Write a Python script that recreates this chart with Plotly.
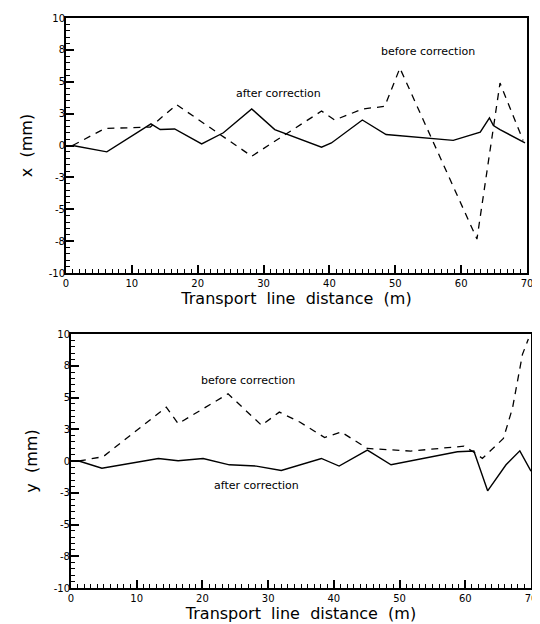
import plotly.graph_objects as go

# ---------------- data ----------------
# Top panel: horizontal orbit x (mm)
x_after_dist = [1.0, 6.2, 12.9, 14.3, 16.5, 20.6, 23.9, 28.2, 31.7, 38.8, 40.3, 45.0, 48.6, 58.8, 62.9, 64.3, 64.9, 65.9, 69.7]
x_after_val = [0.0, -0.5, 1.7, 1.25, 1.3, 0.13, 1.0, 2.87, 1.25, -0.13, 0.2, 2.0, 0.86, 0.4, 1.04, 2.16, 1.56, 1.25, 0.2]

x_before_dist = [1.0, 5.9, 12.8, 16.8, 28.2, 38.8, 40.8, 45.1, 48.4, 50.7, 62.4, 65.9, 69.4]
x_before_val = [0.0, 1.33, 1.45, 3.2, -0.84, 2.7, 2.0, 2.87, 3.07, 6.07, -7.34, 4.9, 0.4]

# Bottom panel: vertical orbit y (mm)
y_after_dist = [1.2, 4.7, 13.3, 16.3, 20.1, 24.1, 28.2, 32.0, 38.1, 40.8, 45.1, 48.7, 58.8, 61.3, 63.4, 66.2, 68.3, 70.0]
y_after_val = [0.0, -0.57, 0.2, 0.02, 0.2, -0.3, -0.4, -0.75, 0.2, -0.4, 0.86, -0.3, 0.73, 0.78, -2.35, -0.3, 0.8, -0.8]

y_before_dist = [1.2, 4.9, 14.5, 16.3, 23.9, 29.0, 31.7, 34.8, 38.6, 41.1, 45.1, 51.7, 59.8, 61.6, 62.6, 65.8, 67.2, 68.7, 69.6]
y_before_val = [0.0, 0.34, 4.24, 2.94, 5.29, 2.81, 3.85, 3.07, 1.85, 2.29, 0.99, 0.78, 1.17, 0.6, 0.2, 1.77, 4.2, 8.4, 9.6]

# tick labels
y_tickvals = [-10, -7.5, -5, -2.5, 0, 2.5, 5, 7.5, 10]
y_ticktext = ["-10", "-8", "-5", "-3", "0", "3", "5", "8", "10"]

labels_top = [("after correction", 32.3, 4.1), ("before correction", 54.9, 7.4)]
labels_bottom = [("before correction", 27.0, 6.3), ("after correction", 28.2, -1.95)]

# ---------------- figure ----------------
# the page body has an 8px margin; positions below are page pixels
OFF = 8
W, H = 540 - OFF, 624 - OFF
ML, MR, MT, MB = 50, 5, 6, 16
PW, PH = W - ML - MR, H - MT - MB
FONT = "DejaVu Sans"


def fx(a, b):
    return [(a - OFF - ML) / PW, (b - OFF - ML) / PW]


def fy(top, bottom):
    return [1 - (bottom - OFF - MT) / PH, 1 - (top - OFF - MT) / PH]


fig = go.Figure()
line_solid = dict(color="black", width=1.4)
line_dash = dict(color="black", width=1.3, dash="7px,6px")

fig.add_trace(go.Scatter(x=x_after_dist, y=x_after_val, mode="lines", line=line_solid,
                         xaxis="x", yaxis="y", showlegend=False))
fig.add_trace(go.Scatter(x=x_before_dist, y=x_before_val, mode="lines", line=line_dash,
                         xaxis="x", yaxis="y", showlegend=False))
fig.add_trace(go.Scatter(x=y_after_dist, y=y_after_val, mode="lines", line=line_solid,
                         xaxis="x2", yaxis="y2", showlegend=False))
fig.add_trace(go.Scatter(x=y_before_dist, y=y_before_val, mode="lines", line=line_dash,
                         xaxis="x2", yaxis="y2", showlegend=False))
# empty traces so the overlay (label) axes get drawn
fig.add_trace(go.Scatter(x=[], y=[], xaxis="x", yaxis="y3", showlegend=False, hoverinfo="skip"))
fig.add_trace(go.Scatter(x=[], y=[], xaxis="x2", yaxis="y4", showlegend=False, hoverinfo="skip"))

common_x = dict(range=[0, 70], tickmode="linear", tick0=0, dtick=10,
                ticks="inside", ticklen=8, tickwidth=2, tickcolor="black",
                minor=dict(ticks="inside", ticklen=4, dtick=1, tickcolor="black", tickwidth=1),
                showline=True, linecolor="black", linewidth=1.5, mirror=True,
                showgrid=False, zeroline=False, automargin=False,
                tickfont=dict(family=FONT, size=10, color="black"),
                title=dict(text="Transport  line  distance  (m)",
                           font=dict(family=FONT, size=16, color="black"), standoff=0))
# main y axes: frame + major/minor ticks, no labels
common_y = dict(range=[-10, 10], tickmode="linear", tick0=0, dtick=2.5,
                ticks="inside", ticklen=8, tickwidth=2, tickcolor="black",
                minor=dict(ticks="inside", ticklen=4, dtick=0.5, tickcolor="black", tickwidth=1),
                showticklabels=False,
                showline=True, linecolor="black", linewidth=1.5, mirror=True,
                showgrid=False, zeroline=False, automargin=False)
# overlay y axes: the rounded tick labels and the axis titles
label_y = dict(range=[-10, 10], tickmode="array", tickvals=y_tickvals, ticktext=y_ticktext,
               ticks="", showline=False, showgrid=False, zeroline=False, automargin=False,
               side="left", tickfont=dict(family=FONT, size=10, color="black"))

fig.update_layout(
    width=W, height=H,
    margin=dict(l=ML, r=MR, t=MT, b=MB),
    paper_bgcolor="white", plot_bgcolor="white",
    xaxis=dict(common_x, domain=fx(66, 527), anchor="y"),
    yaxis=dict(common_y, domain=fy(18, 273), anchor="x"),
    yaxis3=dict(label_y, overlaying="y", anchor="x",
                title=dict(text="x  (mm)", font=dict(family=FONT, size=16, color="black"), standoff=12)),
    xaxis2=dict(common_x, domain=fx(71, 531), anchor="y2"),
    yaxis2=dict(common_y, domain=fy(334, 588), anchor="x2"),
    yaxis4=dict(label_y, overlaying="y2", anchor="x2",
                title=dict(text="y  (mm)", font=dict(family=FONT, size=16, color="black"), standoff=12)),
)

for txt, xx, yy in labels_top:
    fig.add_annotation(text=txt, x=xx, y=yy, xref="x", yref="y", showarrow=False,
                       font=dict(family=FONT, size=11, color="black"))
for txt, xx, yy in labels_bottom:
    fig.add_annotation(text=txt, x=xx, y=yy, xref="x2", yref="y2", showarrow=False,
                       font=dict(family=FONT, size=11, color="black"))

fig.write_html("out.html")
